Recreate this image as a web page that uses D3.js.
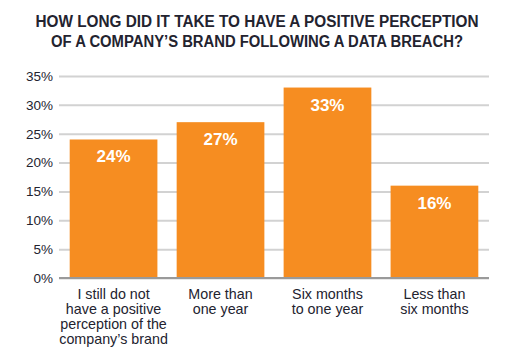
<!DOCTYPE html>
<head>
  <meta charset="utf-8">
  <script src="https://d3js.org/d3.v7.min.js"></script>
  <style>
    body { margin:0; background:#fff; }
    svg { display:block; }
    .tick text { font-family: "Liberation Sans", Arial, sans-serif; }
  </style>
</head>
<body>
  <script>
    // chart data
    var titleLines = ["HOW LONG DID IT TAKE TO HAVE A POSITIVE PERCEPTION",
                      "OF A COMPANY\u2019S BRAND FOLLOWING A DATA BREACH?"];
    var categories = [
      ["I still do not", "have a positive", "perception of the", "company\u2019s brand"],
      ["More than", "one year"],
      ["Six months", "to one year"],
      ["Less than", "six months"]
    ];
    var values = [24, 27, 33, 16];
    var yTicks = [0, 5, 10, 15, 20, 25, 30, 35];

    var width = 524, height = 358;
    var m = {left: 59, right: 489, top: 76, bottom: 278};
    var ink = "#23232f";

    var svg = d3.select("body").append("svg")
        .attr("width", width)
        .attr("height", height);

    svg.selectAll("text.title")
      .data(titleLines)
      .enter().append("text")
        .attr("class", "title")
        .attr("x", 257)
        .attr("y", function(d, i) { return 27 + i * 20; })
        .attr("text-anchor", "middle")
        .attr("font-family", "Liberation Sans, Arial, sans-serif")
        .attr("font-weight", "bold")
        .attr("font-size", 16)
        .attr("fill", ink)
        .attr("textLength", function(d, i) { return i == 0 ? 443 : 412; })
        .attr("lengthAdjust", "spacingAndGlyphs")
        .text(function(d) { return d; });

    var x = d3.scaleBand()
        .domain(d3.range(values.length))
        .range([m.left, m.right])
        .paddingInner(0.18)
        .paddingOuter(0.1);

    var y = d3.scaleLinear()
        .domain([0, 35])
        .range([m.bottom, m.top]);

    // gridlines
    svg.append("g")
        .attr("transform", "translate(" + m.left + ",0)")
        .call(d3.axisLeft(y).tickValues(yTicks).tickSize(-(m.right - m.left)).tickFormat(function(d) { return d + "%"; }))
        .call(function(g) {
          g.select(".domain").remove();
          g.selectAll(".tick line").attr("stroke", "#d2d2d2").attr("stroke-width", 2);
          g.selectAll(".tick text").attr("x", -6).attr("font-size", 13.5).attr("fill", ink);
        });

    svg.selectAll("rect.bar")
      .data(values)
      .enter().append("rect")
        .attr("class", "bar")
        .attr("x", function(d, i) { return x(i); })
        .attr("y", function(d) { return y(d); })
        .attr("width", x.bandwidth())
        .attr("height", function(d) { return y(0) - y(d); })
        .attr("fill", "#f68d21");

    svg.append("line")
        .attr("x1", m.left).attr("x2", m.right)
        .attr("y1", y(0)).attr("y2", y(0))
        .attr("stroke", "#9a9a9a")
        .attr("stroke-width", 2);

    svg.selectAll("text.val")
      .data(values)
      .enter().append("text")
        .attr("class", "val")
        .attr("x", function(d, i) { return x(i) + x.bandwidth() / 2; })
        .attr("y", function(d) { return y(d) + 23; })
        .attr("text-anchor", "middle")
        .attr("font-family", "Liberation Sans, Arial, sans-serif")
        .attr("font-weight", "bold")
        .attr("font-size", 17)
        .attr("fill", "#fff")
        .text(function(d) { return d + "%"; });

    var cat = svg.selectAll("text.cat")
      .data(categories)
      .enter().append("text")
        .attr("class", "cat")
        .attr("text-anchor", "middle")
        .attr("font-family", "Liberation Sans, Arial, sans-serif")
        .attr("font-size", 14.3)
        .attr("fill", ink);

    cat.selectAll("tspan")
      .data(function(d, i) { return d.map(function(s) { return {s: s, i: i}; }); })
      .enter().append("tspan")
        .attr("x", function(d) { return x(d.i) + x.bandwidth() / 2; })
        .attr("y", function(d, j) { return 299 + j * 15; })
        .text(function(d) { return d.s; });
  </script>
</body>
